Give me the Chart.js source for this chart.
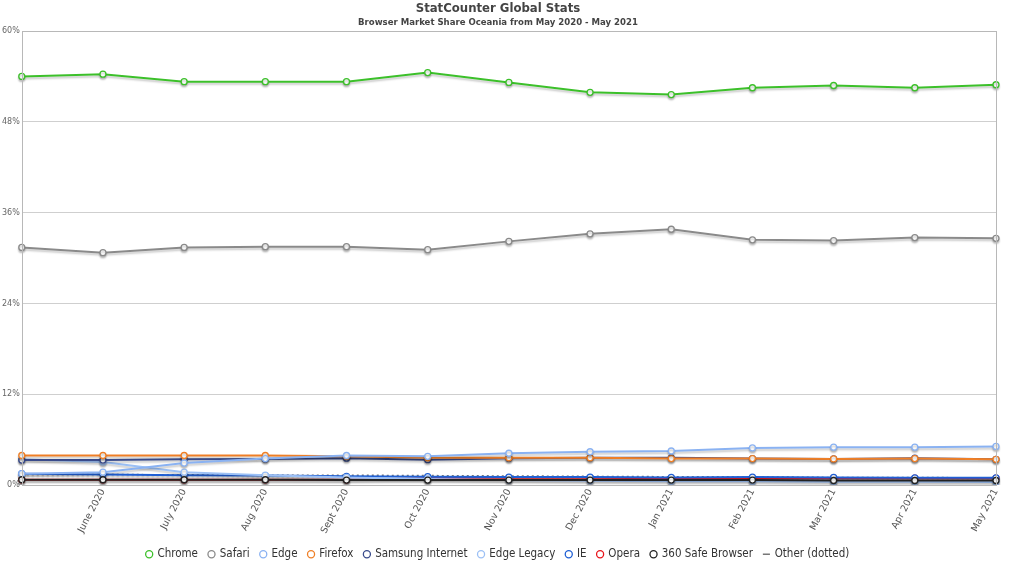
<!DOCTYPE html>
<html>
<head>
<meta charset="utf-8">
<script src="https://cdn.jsdelivr.net/npm/chart.js@4/dist/chart.umd.min.js"></script>
<style>
  html, body { margin: 0; padding: 0; background: #fff; }
  #wrap { width: 1024px; height: 576px; }
</style>
</head>
<body>
<div id="wrap"><canvas id="mycanvas" width="1024" height="576"></canvas></div>
<script>
var months = ["May 2020", "June 2020", "July 2020", "Aug 2020", "Sept 2020", "Oct 2020", "Nov 2020",
              "Dec 2020", "Jan 2021", "Feb 2021", "Mar 2021", "Apr 2021", "May 2021"];

var chrome   = [54.0, 54.3, 53.3, 53.3, 53.3, 54.5, 53.2, 51.9, 51.6, 52.5, 52.8, 52.5, 52.9];
var safari   = [31.4, 30.7, 31.4, 31.5, 31.5, 31.1, 32.2, 33.2, 33.8, 32.4, 32.3, 32.7, 32.6];
var edge     = [1.5, 1.7, 2.9, 3.5, 3.9, 3.8, 4.2, 4.4, 4.5, 4.9, 5.0, 5.0, 5.1];
var firefox  = [3.9, 3.9, 3.9, 3.9, 3.8, 3.6, 3.6, 3.6, 3.5, 3.5, 3.45, 3.5, 3.4];
var samsung  = [3.3, 3.3, 3.4, 3.45, 3.55, 3.35, 3.55, 3.6, 3.6, 3.5, 3.45, 3.55, 3.4];
var edgeLegacy = [3.4, 3.05, 1.7, 1.3, 1.0, 0.8, 0.65, 0.55, 0.5, 0.5, 0.45, 0.45, 0.4];
var ie       = [1.5, 1.4, 1.3, 1.25, 1.15, 1.1, 1.05, 1.05, 1.0, 1.05, 1.0, 0.95, 0.95];
var opera    = [0.7, 0.7, 0.7, 0.7, 0.7, 0.9, 0.95, 0.95, 0.9, 0.9, 0.9, 0.9, 0.9];
var safe360  = [0.7, 0.7, 0.7, 0.7, 0.65, 0.65, 0.65, 0.65, 0.65, 0.65, 0.6, 0.6, 0.6];
var other    = [1.4, 1.4, 1.35, 1.3, 1.3, 1.25, 1.2, 1.15, 1.1, 1.1, 1.0, 1.0, 0.95];

var yTicks = [0, 12, 24, 36, 48, 60];

function series(label, data, color) {
    return {
        label: label,
        data: data,
        borderColor: color,
        backgroundColor: "#fff",
        borderWidth: 2,
        pointRadius: 3,
        pointBorderWidth: 1.3,
        pointBackgroundColor: "#fff",
        pointBorderColor: color,
        pointStyle: "circle",
        fill: false,
        tension: 0
    };
}

var otherSet = series("Other (dotted)", other, "#777");
otherSet.borderDash = [2, 3];
otherSet.borderWidth = 1.5;
otherSet.pointRadius = 0;
otherSet.pointStyle = "line";

var safeSet = series("360 Safe Browser", safe360, "#222222");
safeSet.order = -1; // black line sits on top of the red one

var chartdata = {
    labels: months,
    datasets: [
        series("Chrome", chrome, "#3cc02a"),
        series("Safari", safari, "#8a8a8a"),
        series("Edge", edge, "#8ab2f2"),
        series("Firefox", firefox, "#ef7f26"),
        series("Samsung Internet", samsung, "#3a4c8c"),
        series("Edge Legacy", edgeLegacy, "#9cc0f5"),
        series("IE", ie, "#1f5fd4"),
        series("Opera", opera, "#e8141a"),
        safeSet,
        otherSet
    ]
};

// soft shadow under the lines, like the original
var shadowPlugin = {
    id: "shadow",
    beforeDatasetDraw: function(chart) {
        var c = chart.ctx;
        c.save();
        c.shadowColor = "rgba(0,0,0,0.22)";
        c.shadowBlur = 2;
        c.shadowOffsetY = 2;
    },
    afterDatasetDraw: function(chart) {
        chart.ctx.restore();
    }
};

// box round the plot area
var framePlugin = {
    id: "frame",
    afterDraw: function(chart) {
        var a = chart.chartArea, c = chart.ctx;
        c.save();
        c.strokeStyle = "#b8b8b8";
        c.lineWidth = 1;
        c.strokeRect(Math.round(a.left) + 0.5, Math.round(a.top) + 0.5,
                     Math.round(a.right - a.left), Math.round(a.bottom - a.top));
        c.restore();
    }
};

var ctx = document.getElementById("mycanvas");
var LineGraph = new Chart(ctx, {
    type: "line",
    data: chartdata,
    plugins: [shadowPlugin, framePlugin],
    options: {
        responsive: false,
        animation: false,
        layout: { padding: { left: 0, right: 28, top: 0, bottom: 6 } },
        plugins: {
            title: {
                display: true,
                text: "StatCounter Global Stats",
                color: "#444",
                font: { family: "DejaVu Sans Condensed, DejaVu Sans", size: 13, weight: "bold" },
                padding: { top: 1, bottom: 0 }
            },
            subtitle: {
                display: true,
                text: "Browser Market Share Oceania from May 2020 - May 2021",
                color: "#444",
                font: { family: "DejaVu Sans Condensed, DejaVu Sans", size: 9.5, weight: "bold" },
                padding: { top: 0, bottom: 3 }
            },
            legend: {
                position: "bottom",
                labels: {
                    usePointStyle: true,
                    boxWidth: 5,
                    boxHeight: 5,
                    padding: 11,
                    color: "#333",
                    font: { family: "DejaVu Sans Condensed, DejaVu Sans", size: 11.5 },
                    sort: function(a, b) { return a.datasetIndex - b.datasetIndex; }
                }
            },
            tooltip: { enabled: false }
        },
        scales: {
            x: {
                offset: false,
                grid: { display: false, drawTicks: false },
                border: { display: false },
                ticks: {
                    color: "#555",
                    font: { family: "DejaVu Sans", size: 9.5 },
                    minRotation: 62,
                    maxRotation: 62,
                    autoSkip: false,
                    padding: 2,
                    callback: function(v, i) { return i === 0 ? "" : months[i]; }
                }
            },
            y: {
                min: 0,
                max: 60,
                afterBuildTicks: function(axis) {
                    axis.ticks = yTicks.map(function(v) { return { value: v }; });
                },
                grid: { color: "#cfcfcf", drawTicks: false },
                border: { display: false },
                ticks: {
                    color: "#666",
                    font: { family: "DejaVu Sans", size: 8 },
                    padding: 2,
                    callback: function(v) { return v + "%"; }
                }
            }
        }
    }
});
</script>
</body>
</html>
